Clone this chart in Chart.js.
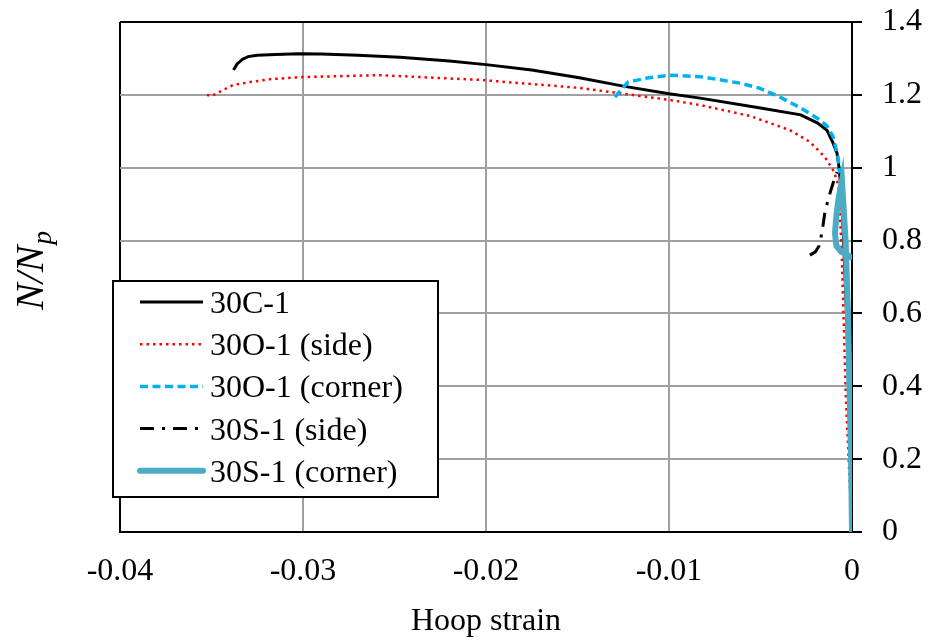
<!DOCTYPE html>
<html>
<head>
<meta charset="utf-8">
<script src="https://cdn.jsdelivr.net/npm/chart.js@4.4.0/dist/chart.umd.min.js"></script>
<style>
html, body { margin: 0; padding: 0; background: #fff; }
</style>
</head>
<body>
<canvas id="canvas" width="930" height="643"></canvas>
<script>
// 30C-1
var c1X = [-0.0338, -0.0336, -0.0333, -0.0330, -0.0325, -0.0315, -0.0302, -0.0290, -0.0270, -0.0247, -0.0220, -0.0200, -0.0175, -0.0149, -0.0125, -0.0100, -0.0083, -0.0050, -0.0028, -0.0019, -0.00137, -0.00104, -0.00082, -0.00071, -0.00062, -0.0005, -0.0003, -0.0001, 0];
var c1Y = [1.268, 1.285, 1.298, 1.305, 1.309, 1.311, 1.313, 1.312, 1.309, 1.303, 1.293, 1.283, 1.268, 1.247, 1.224, 1.203, 1.191, 1.164, 1.145, 1.123, 1.103, 1.068, 1.040, 1.002, 0.95, 0.85, 0.6, 0.3, 0];
// 30O-1 (side)
var oSideX = [-0.03525, -0.0350, -0.03437, -0.03383, -0.0329, -0.0318, -0.0300, -0.0258, -0.0203, -0.01486, -0.00995, -0.0083, -0.00557, -0.00339, -0.0023, -0.00148, -0.00104, -0.00082, -0.00071, -0.00055, -0.00033, 0];
var oSideY = [1.200, 1.197, 1.213, 1.227, 1.235, 1.243, 1.249, 1.254, 1.241, 1.219, 1.186, 1.172, 1.142, 1.103, 1.071, 1.029, 0.994, 0.966, 0.939, 0.747, 0.362, 0];
// 30O-1 (corner)
var oCornerX = [-0.01295, -0.01224, -0.0112, -0.00995, -0.0083, -0.0061, -0.00503, -0.0039, -0.00284, -0.0019, -0.00137, -0.00104, -0.00077, -0.00066];
var oCornerY = [1.194, 1.235, 1.246, 1.254, 1.250, 1.232, 1.218, 1.193, 1.165, 1.136, 1.115, 1.086, 1.030, 0.985];
// 30S-1 (side)
var sSideX = [-0.0023, -0.0020, -0.0018, -0.0017, -0.00158, -0.00148, -0.00131, -0.00115, -0.00098, -0.00082];
var sSideY = [0.760, 0.769, 0.785, 0.807, 0.843, 0.878, 0.911, 0.939, 0.966, 0.988];
// 30S-1 (corner)
var sCornerX = [0, -0.00005, -0.00014, -0.00022, -0.00035, -0.00055, -0.00072, -0.00085, -0.00093, -0.00085, -0.0006, -0.0003, 0.00003];
var sCornerY = [0, 0.2, 0.4, 0.6, 0.8, 0.965, 0.92, 0.87, 0.82, 0.785, 0.77, 0.762, 0.752];

var seriesNames = ['30C-1', '30O-1 (side)', '30O-1 (corner)', '30S-1 (side)', '30S-1 (corner)'];

var FONT = "'Liberation Serif', 'Times New Roman', serif";

function pts(xs, ys) {
    var out = [];
    for (var i = 0; i < xs.length; i++) out.push({x: xs[i], y: ys[i]});
    return out;
}

var chartData = {
    datasets: [{
        label: seriesNames[0],
        data: pts(c1X, c1Y),
        borderColor: '#000000',
        borderWidth: 3,
        borderDash: [],
        order: 4
    }, {
        label: seriesNames[1],
        data: pts(oSideX, oSideY),
        borderColor: '#ff0000',
        borderWidth: 2.5,
        borderDash: [2.5, 4],
        order: 3
    }, {
        label: seriesNames[2],
        data: pts(oCornerX, oCornerY),
        borderColor: '#00b0f0',
        borderWidth: 3.5,
        borderDash: [8, 4.5],
        order: 1
    }, {
        label: seriesNames[3],
        data: pts(sSideX, sSideY),
        borderColor: '#000000',
        borderWidth: 3,
        borderDash: [14, 8, 3, 8],
        order: 2
    }, {
        label: seriesNames[4],
        data: pts(sCornerX, sCornerY),
        borderColor: '#4bacc6',
        borderWidth: 6,
        borderDash: [],
        order: 0
    }]
};

// legend box + y title drawn by hand
var extras = {
    id: 'extras',
    afterDraw: function(chart) {
        var ctx = chart.ctx;
        ctx.save();
        // legend
        ctx.fillStyle = '#fff';
        ctx.fillRect(113, 281, 325, 216);
        ctx.strokeStyle = '#000';
        ctx.lineWidth = 2;
        ctx.strokeRect(113, 281, 325, 216);
        ctx.font = '32px ' + FONT;
        ctx.textBaseline = 'alphabetic';
        chart.data.datasets.forEach(function(ds, i) {
            var base = 313 + i * 42.2;
            var ly = base - 11;
            ctx.save();
            ctx.strokeStyle = ds.borderColor;
            ctx.lineWidth = ds.borderWidth;
            ctx.setLineDash(ds.borderDash);
            ctx.lineCap = i === 4 ? 'round' : 'butt';
            ctx.beginPath();
            ctx.moveTo(140, ly);
            ctx.lineTo(203, ly);
            ctx.stroke();
            ctx.restore();
            ctx.fillStyle = '#000';
            ctx.fillText(ds.label, 210, base);
        });
        // y title N/Np
        ctx.translate(43, 310);
        ctx.rotate(-Math.PI / 2);
        ctx.fillStyle = '#000';
        ctx.font = 'italic 40px ' + FONT;
        ctx.fillText('N/N', 0, 0);
        var w = ctx.measureText('N/N').width;
        ctx.font = 'italic 27px ' + FONT;
        ctx.fillText('p', w + 1, 8);
        ctx.restore();
    }
};

window.onload = function() {
    var ctx = document.getElementById('canvas').getContext('2d');
    new Chart(ctx, {
        type: 'scatter',
        data: chartData,
        plugins: [extras],
        options: {
            responsive: false,
            animation: false,
            showLine: true,
            layout: { padding: { left: 120, top: 22, right: 0, bottom: 0 } },
            elements: {
                point: { radius: 0, hoverRadius: 0 },
                line: { tension: 0, fill: false }
            },
            plugins: {
                legend: { display: false },
                tooltip: { enabled: false }
            },
            scales: {
                x: {
                    type: 'linear',
                    min: -0.04,
                    max: 0,
                    afterFit: function(s) { s.height = 111; s.paddingLeft = 0; s.paddingRight = 0; },
                    ticks: {
                        stepSize: 0.01,
                        padding: 20,
                        color: '#000',
                        font: { family: FONT, size: 32 },
                        callback: function(v) { return String(Math.round(v * 100) / 100); }
                    },
                    grid: {
                        drawTicks: false,
                        lineWidth: 2,
                        color: function(c) { return c.tick && Math.abs(c.tick.value + 0.04) < 1e-9 ? '#000' : '#a0a0a0'; }
                    },
                    border: { color: '#000', width: 2 },
                    title: {
                        display: true,
                        text: 'Hoop strain',
                        color: '#000',
                        font: { family: FONT, size: 32 },
                        padding: { top: 0, bottom: 2 }
                    }
                },
                y: {
                    type: 'linear',
                    position: 'right',
                    min: 0,
                    max: 1.4,
                    afterFit: function(s) { s.width = 78; s.paddingTop = 0; s.paddingBottom = 0; },
                    ticks: {
                        stepSize: 0.2,
                        padding: 20,
                        color: '#000',
                        font: { family: FONT, size: 32 },
                        callback: function(v) { return String(Math.round(v * 10) / 10); }
                    },
                    grid: {
                        tickLength: 10,
                        tickColor: '#000',
                        lineWidth: 2,
                        color: function(c) { return c.tick && Math.abs(c.tick.value - 1.4) < 1e-9 ? '#000' : '#a0a0a0'; }
                    },
                    border: { color: '#000', width: 2 }
                }
            }
        }
    });
};
</script>
</body>
</html>
